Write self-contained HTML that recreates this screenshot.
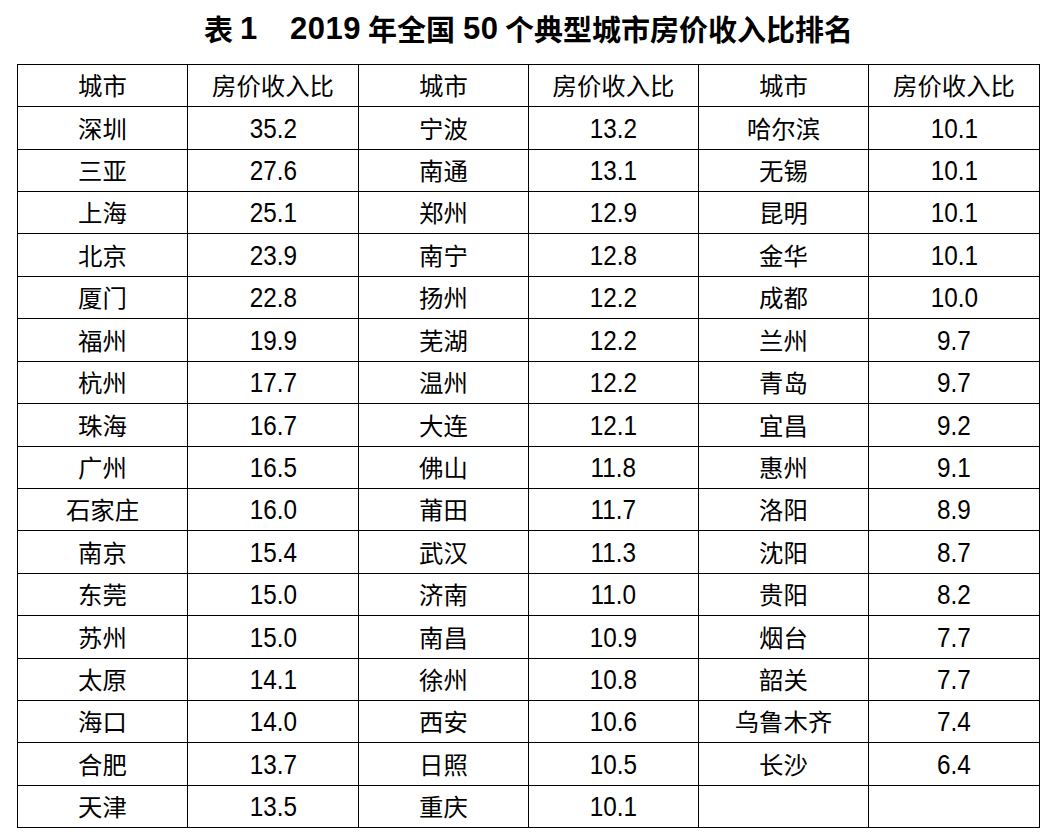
<!DOCTYPE html>
<html lang="zh-CN"><head><meta charset="utf-8"><title>表1 2019年全国50个典型城市房价收入比排名</title>
<style>
html,body{margin:0;padding:0;background:#fff;}
body{width:1055px;height:838px;position:relative;overflow:hidden;color:#000;
 font-family:"Liberation Sans","Noto Sans CJK SC",sans-serif;}
h1{position:absolute;left:0;top:0;width:1055px;height:56px;margin:0;font-size:29px;font-weight:bold;line-height:1;white-space:pre;}
h1 span{position:absolute;}
.tc{top:17px;font-size:29px;font-family:"Liberation Sans","Noto Sans CJK SC",sans-serif;}
.tn{top:13px;font-size:31px;font-family:"Liberation Sans","Noto Sans CJK SC",sans-serif;}
table{position:absolute;left:17px;top:64px;border-collapse:collapse;table-layout:fixed;width:1022px;}
td{border:1px solid #000;padding:0;text-align:center;vertical-align:middle;line-height:1;white-space:nowrap;}
td.c{font-size:24.4px;font-family:"Liberation Sans","Noto Sans CJK SC",sans-serif;}
td.n{font-size:27px;font-family:"Liberation Sans","Noto Sans CJK SC",sans-serif;}
td.n span{display:inline-block;transform:scaleX(0.9);position:relative;top:1px;}
td.c span{position:relative;top:2px;}
</style></head><body>
<h1><span class="tc" style="left:204px">表</span> <span class="tn" style="left:240px">1</span>　<span class="tn" style="left:290px;letter-spacing:0.5px">2019</span> <span class="tc" style="left:368px">年全国</span> <span class="tn" style="left:463px;letter-spacing:0.5px">50</span> <span class="tc" style="left:505px">个典型城市房价收入比排名</span></h1>
<table><colgroup><col style="width:170px"><col style="width:171px"><col style="width:170px"><col style="width:170px"><col style="width:170px"><col style="width:171px"></colgroup><tbody>
<tr style="height:42px"><td class="c"><span>城市</span></td><td class="c"><span>房价收入比</span></td><td class="c"><span>城市</span></td><td class="c"><span>房价收入比</span></td><td class="c"><span>城市</span></td><td class="c"><span>房价收入比</span></td></tr>
<tr style="height:43px"><td class="c"><span>深圳</span></td><td class="n"><span>35.2</span></td><td class="c"><span>宁波</span></td><td class="n"><span>13.2</span></td><td class="c"><span>哈尔滨</span></td><td class="n"><span>10.1</span></td></tr>
<tr style="height:42px"><td class="c"><span>三亚</span></td><td class="n"><span>27.6</span></td><td class="c"><span>南通</span></td><td class="n"><span>13.1</span></td><td class="c"><span>无锡</span></td><td class="n"><span>10.1</span></td></tr>
<tr style="height:42px"><td class="c"><span>上海</span></td><td class="n"><span>25.1</span></td><td class="c"><span>郑州</span></td><td class="n"><span>12.9</span></td><td class="c"><span>昆明</span></td><td class="n"><span>10.1</span></td></tr>
<tr style="height:43px"><td class="c"><span>北京</span></td><td class="n"><span>23.9</span></td><td class="c"><span>南宁</span></td><td class="n"><span>12.8</span></td><td class="c"><span>金华</span></td><td class="n"><span>10.1</span></td></tr>
<tr style="height:42px"><td class="c"><span>厦门</span></td><td class="n"><span>22.8</span></td><td class="c"><span>扬州</span></td><td class="n"><span>12.2</span></td><td class="c"><span>成都</span></td><td class="n"><span>10.0</span></td></tr>
<tr style="height:43px"><td class="c"><span>福州</span></td><td class="n"><span>19.9</span></td><td class="c"><span>芜湖</span></td><td class="n"><span>12.2</span></td><td class="c"><span>兰州</span></td><td class="n"><span>9.7</span></td></tr>
<tr style="height:42px"><td class="c"><span>杭州</span></td><td class="n"><span>17.7</span></td><td class="c"><span>温州</span></td><td class="n"><span>12.2</span></td><td class="c"><span>青岛</span></td><td class="n"><span>9.7</span></td></tr>
<tr style="height:43px"><td class="c"><span>珠海</span></td><td class="n"><span>16.7</span></td><td class="c"><span>大连</span></td><td class="n"><span>12.1</span></td><td class="c"><span>宜昌</span></td><td class="n"><span>9.2</span></td></tr>
<tr style="height:42px"><td class="c"><span>广州</span></td><td class="n"><span>16.5</span></td><td class="c"><span>佛山</span></td><td class="n"><span>11.8</span></td><td class="c"><span>惠州</span></td><td class="n"><span>9.1</span></td></tr>
<tr style="height:42px"><td class="c"><span>石家庄</span></td><td class="n"><span>16.0</span></td><td class="c"><span>莆田</span></td><td class="n"><span>11.7</span></td><td class="c"><span>洛阳</span></td><td class="n"><span>8.9</span></td></tr>
<tr style="height:43px"><td class="c"><span>南京</span></td><td class="n"><span>15.4</span></td><td class="c"><span>武汉</span></td><td class="n"><span>11.3</span></td><td class="c"><span>沈阳</span></td><td class="n"><span>8.7</span></td></tr>
<tr style="height:42px"><td class="c"><span>东莞</span></td><td class="n"><span>15.0</span></td><td class="c"><span>济南</span></td><td class="n"><span>11.0</span></td><td class="c"><span>贵阳</span></td><td class="n"><span>8.2</span></td></tr>
<tr style="height:43px"><td class="c"><span>苏州</span></td><td class="n"><span>15.0</span></td><td class="c"><span>南昌</span></td><td class="n"><span>10.9</span></td><td class="c"><span>烟台</span></td><td class="n"><span>7.7</span></td></tr>
<tr style="height:42px"><td class="c"><span>太原</span></td><td class="n"><span>14.1</span></td><td class="c"><span>徐州</span></td><td class="n"><span>10.8</span></td><td class="c"><span>韶关</span></td><td class="n"><span>7.7</span></td></tr>
<tr style="height:42px"><td class="c"><span>海口</span></td><td class="n"><span>14.0</span></td><td class="c"><span>西安</span></td><td class="n"><span>10.6</span></td><td class="c"><span>乌鲁木齐</span></td><td class="n"><span>7.4</span></td></tr>
<tr style="height:43px"><td class="c"><span>合肥</span></td><td class="n"><span>13.7</span></td><td class="c"><span>日照</span></td><td class="n"><span>10.5</span></td><td class="c"><span>长沙</span></td><td class="n"><span>6.4</span></td></tr>
<tr style="height:42px"><td class="c"><span>天津</span></td><td class="n"><span>13.5</span></td><td class="c"><span>重庆</span></td><td class="n"><span>10.1</span></td><td class="c"></td><td class="n"></td></tr>
</tbody></table>
</body></html>
